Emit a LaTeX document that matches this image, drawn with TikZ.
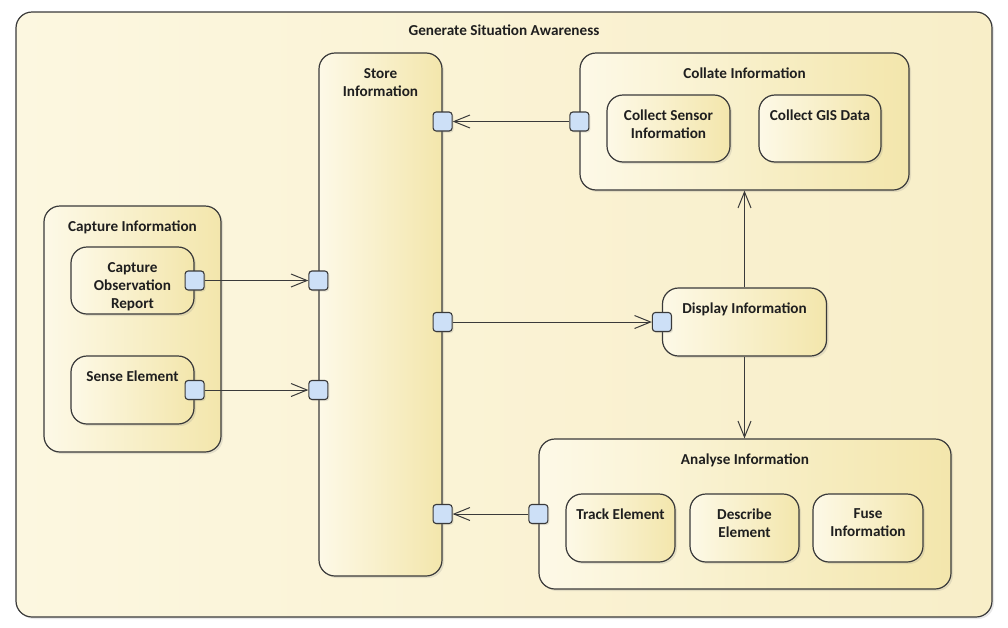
\documentclass[tikz,border=0pt]{standalone}
\usepackage{fontspec}
\setmainfont{Carlito}
\usetikzlibrary{arrows.meta,shadows}

\definecolor{edgec}{HTML}{3A3A3A}
\definecolor{boxL}{HTML}{FDF9E7}
\definecolor{boxR}{HTML}{F3E6AC}
\definecolor{outL}{HTML}{FCF7E0}
\definecolor{outR}{HTML}{F8EEC8}
\definecolor{portc}{HTML}{CDE0F7}

\tikzset{
  act/.style={draw=edgec, line width=1.2pt, rounded corners=16pt, inner sep=0pt,
    left color=boxL, right color=boxR,
    drop shadow={shadow xshift=2pt, shadow yshift=-2pt, opacity=0.18}},
  lbl/.style={anchor=north, yshift=-15.5pt, align=center, inner sep=0pt,
    text=black!88, font=\bfseries\fontsize{15.2}{18}\selectfont},
  portbox/.style={draw=edgec, line width=1.1pt, fill=portc, rounded corners=3pt,
    minimum size=19pt, inner sep=0pt,
    drop shadow={shadow xshift=1.5pt, shadow yshift=-1.5pt, opacity=0.2}},
  flow/.style={draw=edgec, line width=1pt, -{Straight Barb[length=16pt,width=13pt]}},
}

\begin{document}
\begin{tikzpicture}[x=1pt, y=-1pt]
  \useasboundingbox (0,0) rectangle (1008,627);

  % cadre general
  \node[act, left color=outL, right color=outR, minimum width=976pt, minimum height=605pt,
    label={[lbl, yshift=2.5pt]north:Generate Situation Awareness}] (gsa) at (504,314.5) {};

  % colonne de stockage
  \node[act, minimum width=123pt, minimum height=523pt,
    label={[lbl]north:Store\\Information}] (store) at (380.5,314.5) {};

  % capture
  \node[act, minimum width=177pt, minimum height=246pt,
    label={[lbl]north:Capture Information}] (capt) at (132.5,329) {};
  \node[act, minimum width=123pt, minimum height=67pt,
    label={[lbl]north:Capture\\Observation\\Report}] (obs) at (132.5,280.5) {};
  \node[act, minimum width=123pt, minimum height=68pt,
    label={[lbl]north:Sense Element}] (sense) at (132.5,390) {};

  % collation
  \node[act, minimum width=329pt, minimum height=137pt,
    label={[lbl]north:Collate Information}] (coll) at (744.5,121.5) {};
  \node[act, minimum width=123pt, minimum height=67pt,
    label={[lbl]north:Collect Sensor\\Information}] (sensor) at (668.5,128.5) {};
  \node[act, minimum width=122pt, minimum height=67pt,
    label={[lbl]north:Collect GIS Data}] (gis) at (820,128.5) {};

  % affichage
  \node[act, minimum width=164pt, minimum height=68pt,
    label={[lbl]north:Display Information}] (disp) at (744.5,322) {};

  % analyse
  \node[act, minimum width=412pt, minimum height=150pt,
    label={[lbl]north:Analyse Information}] (anal) at (745,514) {};
  \node[act, minimum width=109pt, minimum height=68pt,
    label={[lbl]north:Track Element}] (track) at (620.5,528) {};
  \node[act, minimum width=109pt, minimum height=68pt,
    label={[lbl]north:Describe\\Element}] (descr) at (744.5,528) {};
  \node[act, minimum width=110pt, minimum height=68pt,
    label={[lbl]north:Fuse\\Information}] (fuse) at (868,528) {};

  % ports
  \node[portbox] (obsP) at (obs.east) {};
  \node[portbox] (senseP) at (sense.east) {};
  \node[portbox] (collP) at (coll.west) {};
  \node[portbox] (dispP) at (disp.west) {};
  \node[portbox] (analP) at (anal.west) {};
  \node[portbox] (stIn1) at (store.west |- obsP) {};
  \node[portbox] (stIn2) at (store.west |- senseP) {};
  \node[portbox] (stOut1) at (store.east |- collP) {};
  \node[portbox] (stOut2) at (store.east |- dispP) {};
  \node[portbox] (stOut3) at (store.east |- analP) {};

  % flux
  \draw[flow] (obsP) -- (stIn1);
  \draw[flow] (senseP) -- (stIn2);
  \draw[flow] (collP) -- (stOut1);
  \draw[flow] (stOut2) -- (dispP);
  \draw[flow] (analP) -- (stOut3);
  \draw[flow] (disp.north) -- (disp.north |- coll.south);
  \draw[flow] (disp.south) -- (disp.south |- anal.north);

\end{tikzpicture}
\end{document}
